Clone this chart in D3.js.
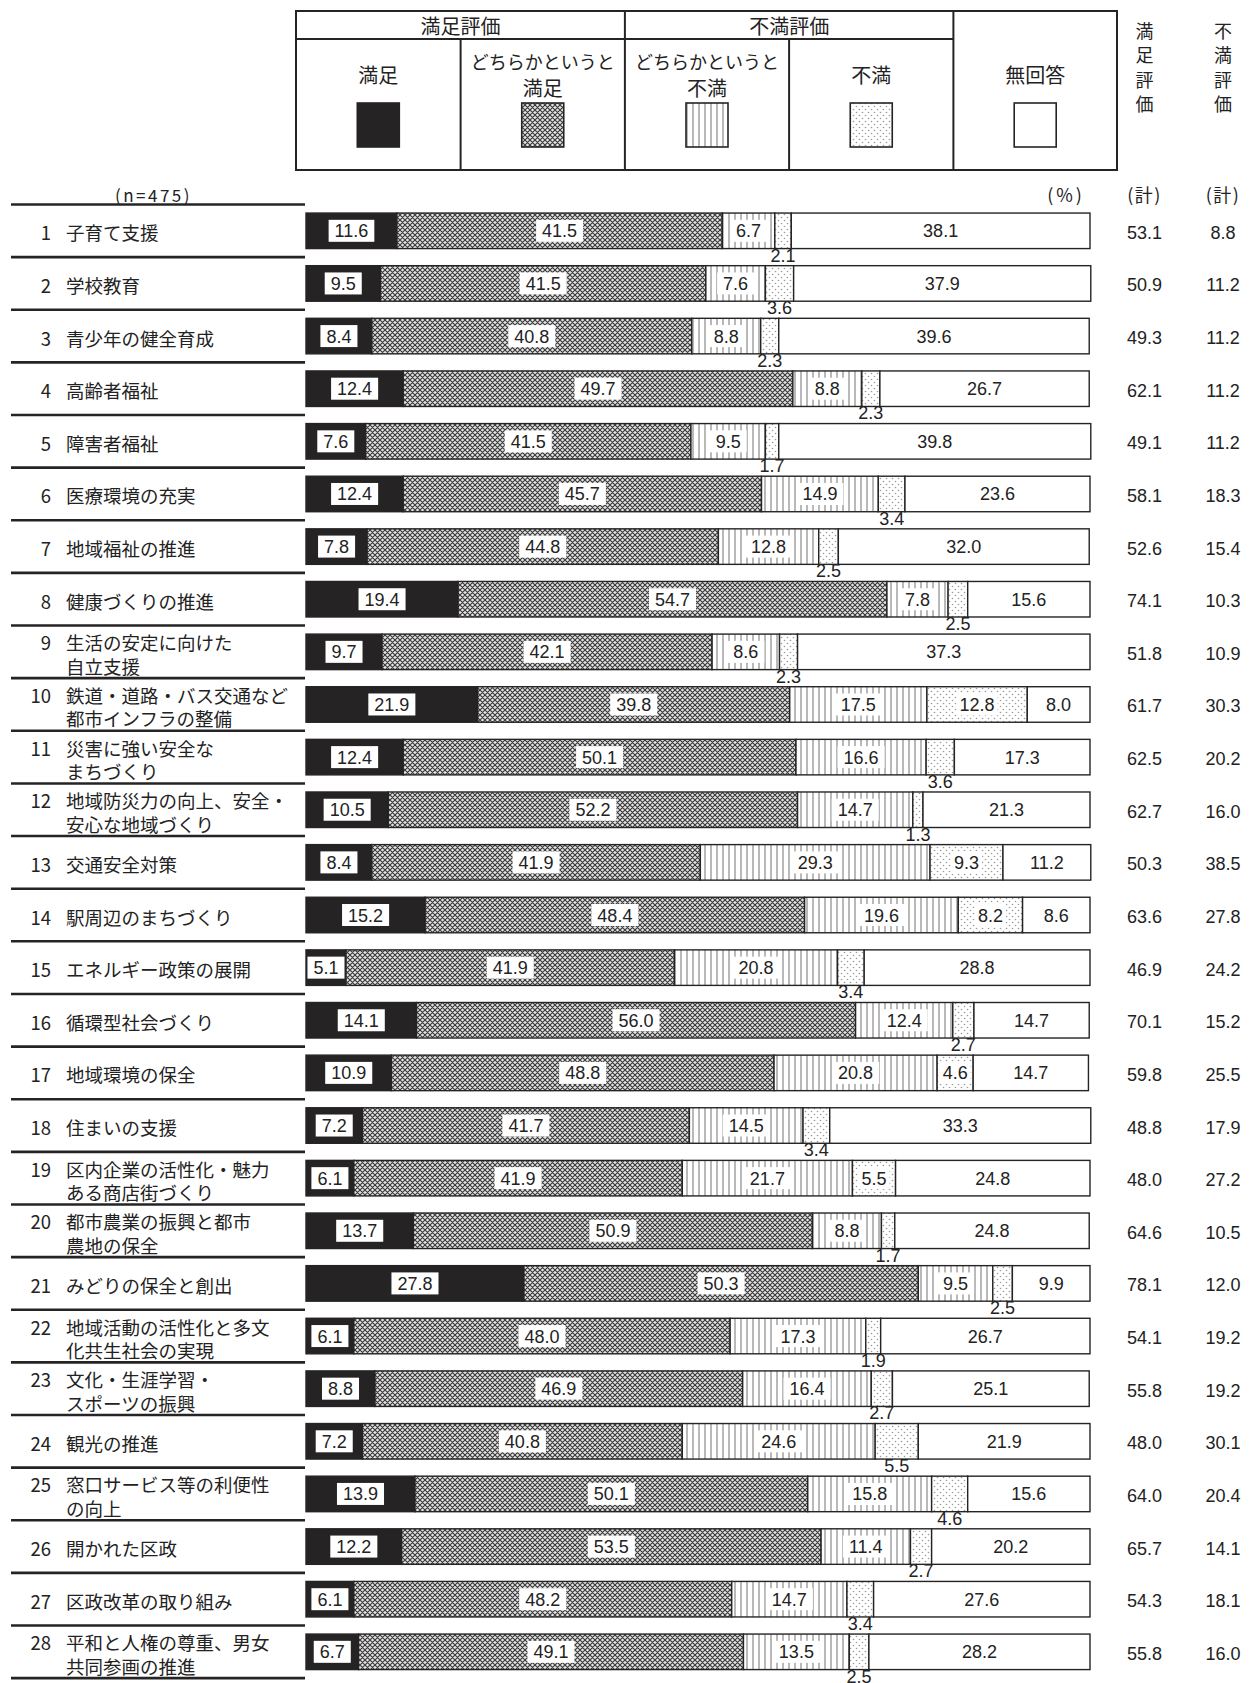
<!DOCTYPE html>
<html><head><meta charset="utf-8">
<script src="https://cdn.jsdelivr.net/npm/d3@7/dist/d3.min.js"></script>
<style>
html,body{margin:0;padding:0;background:#fff;}
svg text{font-family:"Noto Sans CJK JP","Noto Sans",sans-serif;fill:#222;}
.num{font-family:"Liberation Sans Narrow","Liberation Sans",Arial,sans-serif;}
</style></head>
<body>
<svg id="c" width="1253" height="1683"></svg>
<script>
// ---- data ----
const itemNos = [1,2,3,4,5,6,7,8,9,10,11,12,13,14,15,16,17,18,19,20,21,22,23,24,25,26,27,28];
const itemLabels = [
  ["子育て支援"],["学校教育"],["青少年の健全育成"],["高齢者福祉"],["障害者福祉"],
  ["医療環境の充実"],["地域福祉の推進"],["健康づくりの推進"],["生活の安定に向けた","自立支援"],
  ["鉄道・道路・バス交通など","都市インフラの整備"],["災害に強い安全な","まちづくり"],
  ["地域防災力の向上、安全・","安心な地域づくり"],["交通安全対策"],["駅周辺のまちづくり"],
  ["エネルギー政策の展開"],["循環型社会づくり"],["地域環境の保全"],["住まいの支援"],
  ["区内企業の活性化・魅力","ある商店街づくり"],["都市農業の振興と都市","農地の保全"],
  ["みどりの保全と創出"],["地域活動の活性化と多文","化共生社会の実現"],
  ["文化・生涯学習・","スポーツの振興"],["観光の推進"],["窓口サービス等の利便性","の向上"],
  ["開かれた区政"],["区政改革の取り組み"],["平和と人権の尊重、男女","共同参画の推進"]
];
const seriesNames = ["満足","どちらかというと満足","どちらかというと不満","不満","無回答"];
const manzoku     = [11.6,9.5,8.4,12.4,7.6,12.4,7.8,19.4,9.7,21.9,12.4,10.5,8.4,15.2,5.1,14.1,10.9,7.2,6.1,13.7,27.8,6.1,8.8,7.2,13.9,12.2,6.1,6.7];
const yaManzoku   = [41.5,41.5,40.8,49.7,41.5,45.7,44.8,54.7,42.1,39.8,50.1,52.2,41.9,48.4,41.9,56.0,48.8,41.7,41.9,50.9,50.3,48.0,46.9,40.8,50.1,53.5,48.2,49.1];
const yaFuman     = [6.7,7.6,8.8,8.8,9.5,14.9,12.8,7.8,8.6,17.5,16.6,14.7,29.3,19.6,20.8,12.4,20.8,14.5,21.7,8.8,9.5,17.3,16.4,24.6,15.8,11.4,14.7,13.5];
const fuman       = [2.1,3.6,2.3,2.3,1.7,3.4,2.5,2.5,2.3,12.8,3.6,1.3,9.3,8.2,3.4,2.7,4.6,3.4,5.5,1.7,2.5,1.9,2.7,5.5,4.6,2.7,3.4,2.5];
const mukaitou    = [38.1,37.9,39.6,26.7,39.8,23.6,32.0,15.6,37.3,8.0,17.3,21.3,11.2,8.6,28.8,14.7,14.7,33.3,24.8,24.8,9.9,26.7,25.1,21.9,15.6,20.2,27.6,28.2];
const manzokuTotal = [53.1,50.9,49.3,62.1,49.1,58.1,52.6,74.1,51.8,61.7,62.5,62.7,50.3,63.6,46.9,70.1,59.8,48.8,48.0,64.6,78.1,54.1,55.8,48.0,64.0,65.7,54.3,55.8];
const fumanTotal   = [8.8,11.2,11.2,11.2,11.2,18.3,15.4,10.3,10.9,30.3,20.2,16.0,38.5,27.8,24.2,15.2,25.5,17.9,27.2,10.5,12.0,19.2,19.2,30.1,20.4,14.1,18.1,16.0];
// items whose 不満 value is printed inside its segment (others printed under the bar)
const fumanInside = [10,13,14,17,19];
const sampleLabel = "(n=475)";

// ---- drawing ----
const svg = d3.select("#c");
const defs = svg.append("defs");
// patterns
const pCross = defs.append("pattern").attr("id","pCross").attr("patternUnits","userSpaceOnUse").attr("width",5).attr("height",5);
pCross.append("rect").attr("width",5).attr("height",5).attr("fill","#e4e4e4");
pCross.append("path").attr("d","M0,0L5,5M5,0L0,5M-1,4L1,6M4,-1L6,1").attr("stroke","#3a3a3a").attr("stroke-width",1.15);
const pVert = defs.append("pattern").attr("id","pVert").attr("patternUnits","userSpaceOnUse").attr("width",6).attr("height",6);
pVert.append("rect").attr("width",6).attr("height",6).attr("fill","#fff");
pVert.append("line").attr("x1",3).attr("x2",3).attr("y1",0).attr("y2",6).attr("stroke","#8a8a8a").attr("stroke-width",1.2);
const pDot = defs.append("pattern").attr("id","pDot").attr("patternUnits","userSpaceOnUse").attr("width",6).attr("height",6);
pDot.append("rect").attr("width",6).attr("height",6).attr("fill","#fff");
pDot.append("circle").attr("cx",1.5).attr("cy",1.5).attr("r",0.8).attr("fill","#9a9a9a");
pDot.append("circle").attr("cx",4.5).attr("cy",4.5).attr("r",0.8).attr("fill","#9a9a9a");

const fills = ["#262324","url(#pCross)","url(#pVert)","url(#pDot)","#fff"];
const ink = "#262324";

const x = d3.scaleLinear().domain([0,100]).range([306,1090]);
const y = d3.scaleBand().domain(itemNos).range([204.5,204.5+28*52.63]).paddingInner(0.325).paddingOuter(0.1625);

// ---- legend ----
const lg = svg.append("g");
const L = {x0:296, x1:1117, y0:11, yh:39, y1:170};
const colX = [296,460.6,624.9,789.1,953.4,1117];
lg.append("rect").attr("x",L.x0).attr("y",L.y0).attr("width",L.x1-L.x0).attr("height",L.y1-L.y0)
  .attr("fill","none").attr("stroke",ink).attr("stroke-width",2);
lg.append("line").attr("x1",L.x0).attr("x2",colX[4]).attr("y1",L.yh).attr("y2",L.yh).attr("stroke",ink).attr("stroke-width",2);
[2,4].forEach(i=>lg.append("line").attr("x1",colX[i]).attr("x2",colX[i]).attr("y1",L.y0).attr("y2",L.y1).attr("stroke",ink).attr("stroke-width",2));
[1,3].forEach(i=>lg.append("line").attr("x1",colX[i]).attr("x2",colX[i]).attr("y1",L.yh).attr("y2",L.y1).attr("stroke",ink).attr("stroke-width",2));
lg.append("text").attr("x",(colX[0]+colX[2])/2).attr("y",25).attr("text-anchor","middle").attr("dominant-baseline","central").attr("font-size",20).text("満足評価");
lg.append("text").attr("x",(colX[2]+colX[4])/2).attr("y",25).attr("text-anchor","middle").attr("dominant-baseline","central").attr("font-size",20).text("不満評価");
const legendLines = [["満足"],["どちらかというと","満足"],["どちらかというと","不満"],["不満"],["無回答"]];
seriesNames.forEach((s,i)=>{
  const cx = (colX[i]+colX[i+1])/2;
  const lines = legendLines[i];
  const ys = lines.length===1 ? [74] : [61,87];
  lines.forEach((t,j)=>lg.append("text").attr("x",cx).attr("y",ys[j]).attr("text-anchor","middle")
     .attr("dominant-baseline","central").attr("font-size",t.length>4?18:20).text(t));
  lg.append("rect").attr("x",cx-21).attr("y",103).attr("width",42).attr("height",44)
     .attr("fill",fills[i]).attr("stroke",ink).attr("stroke-width",1.6);
});
// vertical headers on the right
[["満","足","評","価",1144.5],["不","満","評","価",1223]].forEach(arr=>{
  arr.slice(0,4).forEach((ch,k)=>svg.append("text").attr("x",arr[4]).attr("y",30+k*24.4)
    .attr("text-anchor","middle").attr("dominant-baseline","central").attr("font-size",18).text(ch));
});
svg.append("text").attr("x",153.5).attr("y",194).attr("text-anchor","middle").attr("dominant-baseline","central").attr("font-size",17).attr("letter-spacing",2.5).text(sampleLabel);
svg.append("text").attr("x",1066).attr("y",194).attr("text-anchor","middle").attr("dominant-baseline","central").attr("font-size",18).attr("letter-spacing",3).text("(%)");
svg.append("text").attr("x",1144.5).attr("y",194).attr("text-anchor","middle").attr("dominant-baseline","central").attr("font-size",18).attr("letter-spacing",1.5).text("(計)");
svg.append("text").attr("x",1223).attr("y",194).attr("text-anchor","middle").attr("dominant-baseline","central").attr("font-size",18).attr("letter-spacing",1.5).text("(計)");

// ---- rows ----
const step = y.step();
const rows = itemNos.map((no,i)=>({no, label:itemLabels[i],
  vals:[manzoku[i],yaManzoku[i],yaFuman[i],fuman[i],mukaitou[i]],
  mt:manzokuTotal[i], ft:fumanTotal[i]}));

// separators
const sepY = itemNos.map(n=>y(n)-y.paddingOuter()*step).concat([y.range()[1]]);
svg.append("g").selectAll("line").data(sepY).join("line")
  .attr("x1",11).attr("x2",305).attr("y1",d=>d).attr("y2",d=>d).attr("stroke",ink).attr("stroke-width",2.6);

const g = svg.append("g").selectAll("g").data(rows).join("g");
g.each(function(r){
  const gr = d3.select(this);
  const top = y(r.no), bw = y.bandwidth(), cy = top+bw/2;
  // label
  const ly = r.label.length===1 ? [cy+1.5] : [cy-9.5, cy+14];
  gr.append("text").attr("x",51).attr("y",ly[0]).attr("text-anchor","end").attr("dominant-baseline","central")
    .attr("font-size",18.5).text(r.no);
  r.label.forEach((t,j)=>gr.append("text").attr("x",66).attr("y",ly[j]).attr("dominant-baseline","central").attr("font-size",18.5).text(t));
  // segments
  let acc = 0;
  const segs = r.vals.map((v,k)=>{const s={k,v,a:acc,b:acc+v}; acc+=v; return s;});
  gr.selectAll("rect.seg").data(segs).join("rect").attr("class","seg")
    .attr("x",d=>x(d.a)).attr("y",top).attr("width",d=>x(d.b)-x(d.a)).attr("height",bw)
    .attr("fill",d=>fills[d.k]).attr("stroke",ink).attr("stroke-width",1.4);
  segs.forEach(s=>{
    const cx = (x(s.a)+x(s.b))/2;
    const txt = s.v.toFixed(1);
    if (s.k===3 && fumanInside.indexOf(r.no)<0) {
      gr.append("text").attr("class","num").attr("x",cx).attr("y",top+bw+7).attr("text-anchor","middle")
        .attr("dominant-baseline","central").attr("font-size",18).text(txt);
      return;
    }
    const t = gr.append("text").attr("class","num").attr("x",cx).attr("y",cy+0.5).attr("text-anchor","middle")
      .attr("dominant-baseline","central").attr("font-size",18).text(txt);
    if (s.k<4) {
      const bb = t.node().getBBox();
      const pad = s.k===3 ? 3 : 6;
      gr.append("rect").attr("x",bb.x-pad).attr("y",cy-11).attr("width",bb.width+2*pad).attr("height",22).attr("fill","#fff");
      t.raise();
    }
  });
  // totals
  gr.append("text").attr("class","num").attr("x",1144.5).attr("y",cy+2).attr("text-anchor","middle").attr("dominant-baseline","central").attr("font-size",18).text(r.mt.toFixed(1));
  gr.append("text").attr("class","num").attr("x",1223).attr("y",cy+2).attr("text-anchor","middle").attr("dominant-baseline","central").attr("font-size",18).text(r.ft.toFixed(1));
});
</script>
</body></html>
